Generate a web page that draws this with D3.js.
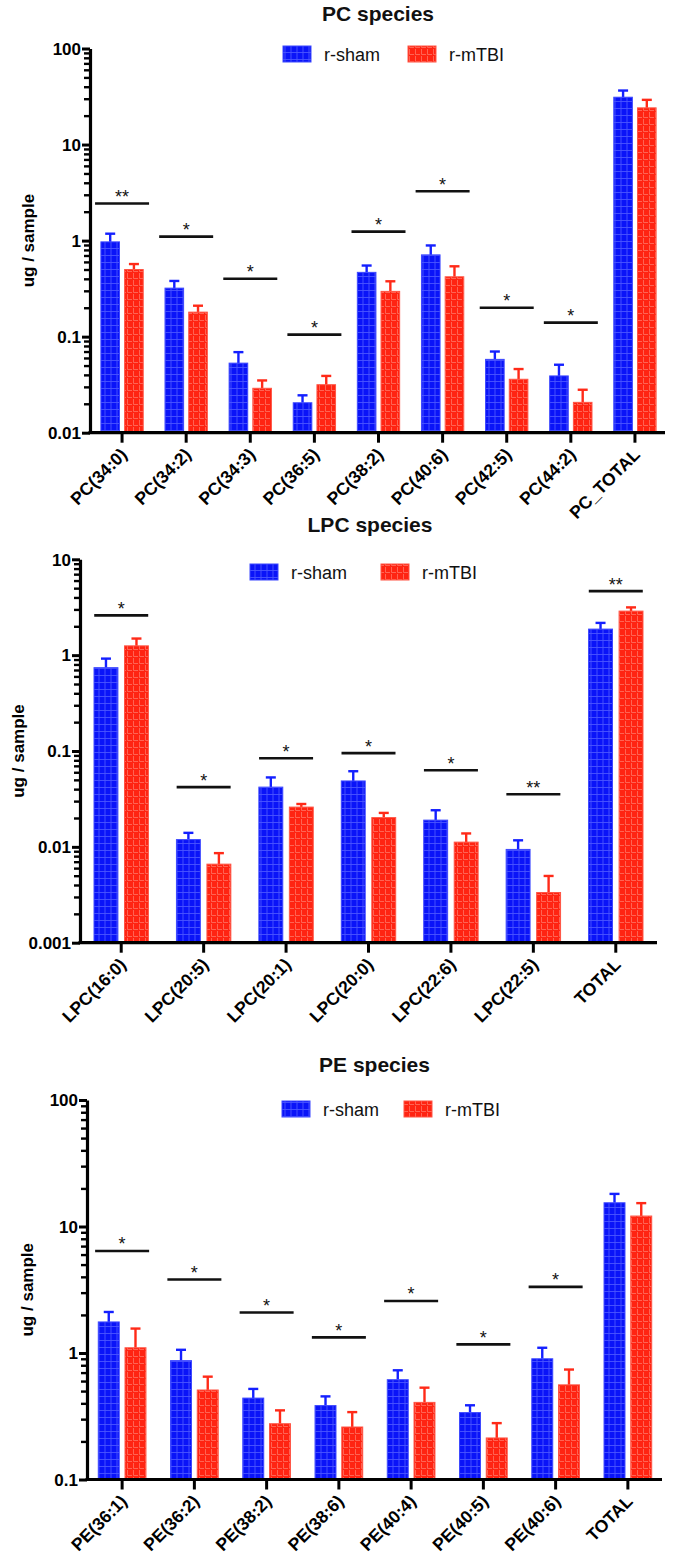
<!DOCTYPE html>
<html><head><meta charset="utf-8">
<script src="https://cdn.jsdelivr.net/npm/d3@7"></script>
<style>
body{margin:0;background:#fff;}
svg{display:block;font-family:"Liberation Sans",Arial,sans-serif;}
</style></head>
<body><svg id="c" width="673" height="1555"></svg>
<script>
// ---------- DATA ----------
const seriesNames = ["r-sham", "r-mTBI"];

const pcCategories = ["PC(34:0)","PC(34:2)","PC(34:3)","PC(36:5)","PC(38:2)","PC(40:6)","PC(42:5)","PC(44:2)","PC_TOTAL"];
const pcSham      = [0.97, 0.32, 0.053, 0.0205, 0.467, 0.71, 0.058, 0.039, 31.1];
const pcShamErr   = [0.21, 0.06, 0.016, 0.004, 0.083, 0.18, 0.012, 0.012, 5.4];
const pcTbi       = [0.50, 0.18, 0.029, 0.0316, 0.296, 0.42, 0.036, 0.0207, 24.1];
const pcTbiErr    = [0.07, 0.03, 0.006, 0.0074, 0.081, 0.12, 0.010, 0.0073, 5.1];
const pcSigMarks  = ["**","*","*","*","*","*","*","*",""];
const pcSigLevel  = [2.43, 1.1, 0.40, 0.105, 1.24, 3.27, 0.20, 0.14, null];
const pcTicks     = [0.01, 0.1, 1, 10, 100];
const pcTickLabels= ["0.01","0.1","1","10","100"];

const lpcCategories = ["LPC(16:0)","LPC(20:5)","LPC(20:1)","LPC(20:0)","LPC(22:6)","LPC(22:5)","TOTAL"];
const lpcSham      = [0.74, 0.0119, 0.042, 0.0487, 0.019, 0.0094, 1.87];
const lpcShamErr   = [0.18, 0.0021, 0.011, 0.0128, 0.0051, 0.0023, 0.30];
const lpcTbi       = [1.25, 0.0066, 0.026, 0.0202, 0.0112, 0.00334, 2.88];
const lpcTbiErr    = [0.24, 0.0020, 0.0020, 0.0024, 0.0026, 0.00163, 0.27];
const lpcSigMarks  = ["*","*","*","*","*","**","**"];
const lpcSigLevel  = [2.6, 0.042, 0.084, 0.095, 0.063, 0.0354, 4.66];
const lpcTicks     = [0.001, 0.01, 0.1, 1, 10];
const lpcTickLabels= ["0.001","0.01","0.1","1","10"];

const peCategories = ["PE(36:1)","PE(36:2)","PE(38:2)","PE(38:6)","PE(40:4)","PE(40:5)","PE(40:6)","TOTAL"];
const peSham      = [1.76, 0.87, 0.44, 0.384, 0.615, 0.338, 0.90, 15.4];
const peShamErr   = [0.35, 0.19, 0.08, 0.07, 0.115, 0.048, 0.20, 2.7];
const peTbi       = [1.10, 0.51, 0.276, 0.26, 0.407, 0.213, 0.56, 12.1];
const peTbiErr    = [0.46, 0.14, 0.076, 0.081, 0.125, 0.066, 0.18, 3.2];
const peSigMarks  = ["*","*","*","*","*","*","*",""];
const peSigLevel  = [6.41, 3.81, 2.09, 1.33, 2.58, 1.17, 3.33, null];
const peTicks     = [0.1, 1, 10, 100];
const peTickLabels= ["0.1","1","10","100"];

// ---------- DRAWING ----------
const svg = d3.select("#c");
const FONT = '"Liberation Sans",Arial,sans-serif';
const defs = svg.append("defs");

function makePattern(id, base, line, kind){
  const p = defs.append("pattern").attr("id", id).attr("patternUnits","userSpaceOnUse")
    .attr("width", 6).attr("height", 7);
  p.append("rect").attr("width",6).attr("height",7).attr("fill", base);
  if (kind === "grid"){
    p.append("path").attr("d","M3,0V7M0,3.5H6").attr("stroke", line).attr("stroke-width",0.9).attr("fill","none");
  } else {
    p.append("path").attr("d","M1.5,0V5.5H6").attr("stroke", line).attr("stroke-width",0.9).attr("fill","none");
  }
}
makePattern("patBlue", "#0a14f8", "#4a55ff", "grid");
makePattern("patRed", "#ff2412", "#ff6a5a", "brick");
const fills = ["url(#patBlue)", "url(#patRed)"];
const strokes = ["#3d48ff", "#ff5545"];
const errColors = ["#1420ff", "#ff2a18"];

function drawChart(cfg){
  const g = svg.append("g");
  const y = d3.scaleLog().domain(cfg.domain).range([cfg.yBottom, cfg.yTop]);
  const x = d3.scaleBand().domain(cfg.categories).range(cfg.xRange);
  const band = x.bandwidth();
  const bw = band * 0.29, gap = band * 0.08;

  // title
  g.append("text").attr("x", cfg.titleX).attr("y", cfg.titleY).attr("text-anchor","middle")
    .attr("font-size", 21).attr("font-weight","bold").attr("fill","#111").text(cfg.title);

  // legend
  seriesNames.forEach((name, i) => {
    const lx = cfg.legendX[i];
    g.append("rect").attr("x", lx).attr("y", cfg.legendY).attr("width", 28).attr("height", 16)
      .attr("fill", fills[i]).attr("stroke", strokes[i]).attr("stroke-width", 1);
    g.append("text").attr("x", lx + 41).attr("y", cfg.legendY + 15).attr("font-size", 18)
      .attr("fill","#111").text(name);
  });

  // bars
  const series = [cfg.sham, cfg.tbi];
  const errs = [cfg.shamErr, cfg.tbiErr];
  series.forEach((vals, si) => {
    cfg.categories.forEach((c, i) => {
      const cx = x(c) + band / 2;
      const bx = si === 0 ? cx - gap / 2 - bw : cx + gap / 2;
      const top = y(vals[i]);
      const errTop = y(vals[i] + errs[si][i]);
      const mid = bx + bw / 2;
      g.append("line").attr("x1", mid).attr("x2", mid).attr("y1", top).attr("y2", errTop)
        .attr("stroke", errColors[si]).attr("stroke-width", 2.4);
      g.append("line").attr("x1", mid - 5).attr("x2", mid + 5).attr("y1", errTop).attr("y2", errTop)
        .attr("stroke", errColors[si]).attr("stroke-width", 2.4);
      g.append("rect").attr("x", bx).attr("y", top).attr("width", bw).attr("height", cfg.yBottom - top)
        .attr("fill", fills[si]).attr("stroke", strokes[si]).attr("stroke-width", 1);
    });
  });

  // significance
  cfg.categories.forEach((c, i) => {
    if (cfg.sigLevel[i] == null) return;
    const cx = x(c) + band / 2;
    const ly = y(cfg.sigLevel[i]);
    g.append("line").attr("x1", cx - 27).attr("x2", cx + 27).attr("y1", ly).attr("y2", ly)
      .attr("stroke", "#111").attr("stroke-width", 2.6);
    g.append("text").attr("x", cx).attr("y", ly - 0.5).attr("text-anchor","middle")
      .attr("font-size", 18).attr("fill","#111").text(cfg.sigMarks[i]);
  });

  // y axis: minor ticks
  const minor = [];
  const [d0, d1] = cfg.domain;
  for (let e = Math.round(Math.log10(d0)); e < Math.round(Math.log10(d1)); e++){
    for (let k = 2; k <= 9; k++) minor.push(k * Math.pow(10, e));
  }
  const yMinor = g.append("g").attr("transform", `translate(${cfg.axisX},0)`)
    .call(d3.axisLeft(y).tickValues(minor).tickSize(6).tickFormat(""));
  yMinor.select(".domain").remove();
  yMinor.selectAll("line").attr("stroke","#000").attr("stroke-width", 2.4);

  const yAx = g.append("g").attr("transform", `translate(${cfg.axisX},0)`)
    .call(d3.axisLeft(y).tickValues(cfg.ticks).tickSize(8).tickSizeOuter(0)
      .tickFormat((d, i) => cfg.tickLabels[i]));
  yAx.select(".domain").attr("stroke","#000").attr("stroke-width", 3.2);
  yAx.selectAll(".tick line").attr("stroke","#000").attr("stroke-width", 3);
  yAx.selectAll(".tick text").attr("font-size", 17).attr("font-weight","bold")
    .attr("font-family", FONT).attr("fill","#000").attr("x", -9).attr("dy","0.34em");

  // x axis
  const xAx = g.append("g").attr("transform", `translate(0,${cfg.yBottom})`)
    .call(d3.axisBottom(x).tickSize(10).tickSizeOuter(0));
  xAx.select(".domain").attr("d", `M${cfg.axisX - 1.5},0H${cfg.xEnd}`).attr("stroke","#000").attr("stroke-width", 3.2);
  xAx.selectAll(".tick line").attr("stroke","#000").attr("stroke-width", 3);
  xAx.selectAll(".tick text").attr("font-size", 17.5).attr("font-weight","bold").attr("font-family", FONT)
    .attr("fill","#000").attr("text-anchor","end").attr("y", 0).attr("dy", 0)
    .attr("transform", "translate(6,23) rotate(-45)");

  // y label
  g.append("text").attr("transform", `translate(${cfg.yLabelX},${(cfg.yTop + cfg.yBottom) / 2}) rotate(-90)`)
    .attr("text-anchor","middle").attr("font-size", 17).attr("font-weight","bold").attr("fill","#000")
    .text("ug / sample");
}

drawChart({
  title: "PC species", titleX: 378, titleY: 21,
  legendX: [283, 408], legendY: 46,
  categories: pcCategories, sham: pcSham, shamErr: pcShamErr, tbi: pcTbi, tbiErr: pcTbiErr,
  sigMarks: pcSigMarks, sigLevel: pcSigLevel, ticks: pcTicks, tickLabels: pcTickLabels,
  domain: [0.01, 100], yTop: 48.5, yBottom: 432.7, axisX: 90, xRange: [90, 667], xEnd: 665, yLabelX: 34
});
drawChart({
  title: "LPC species", titleX: 370, titleY: 532,
  legendX: [250, 381], legendY: 564,
  categories: lpcCategories, sham: lpcSham, shamErr: lpcShamErr, tbi: lpcTbi, tbiErr: lpcTbiErr,
  sigMarks: lpcSigMarks, sigLevel: lpcSigLevel, ticks: lpcTicks, tickLabels: lpcTickLabels,
  domain: [0.001, 10], yTop: 559.3, yBottom: 942.7, axisX: 80, xRange: [80, 657], xEnd: 657, yLabelX: 24
});
drawChart({
  title: "PE species", titleX: 374.5, titleY: 1072,
  legendX: [282, 404], legendY: 1101,
  categories: peCategories, sham: peSham, shamErr: peShamErr, tbi: peTbi, tbiErr: peTbiErr,
  sigMarks: peSigMarks, sigLevel: peSigLevel, ticks: peTicks, tickLabels: peTickLabels,
  domain: [0.1, 100], yTop: 1100, yBottom: 1479.5, axisX: 87, xRange: [86, 664], xEnd: 662, yLabelX: 33
});
</script></body></html>
